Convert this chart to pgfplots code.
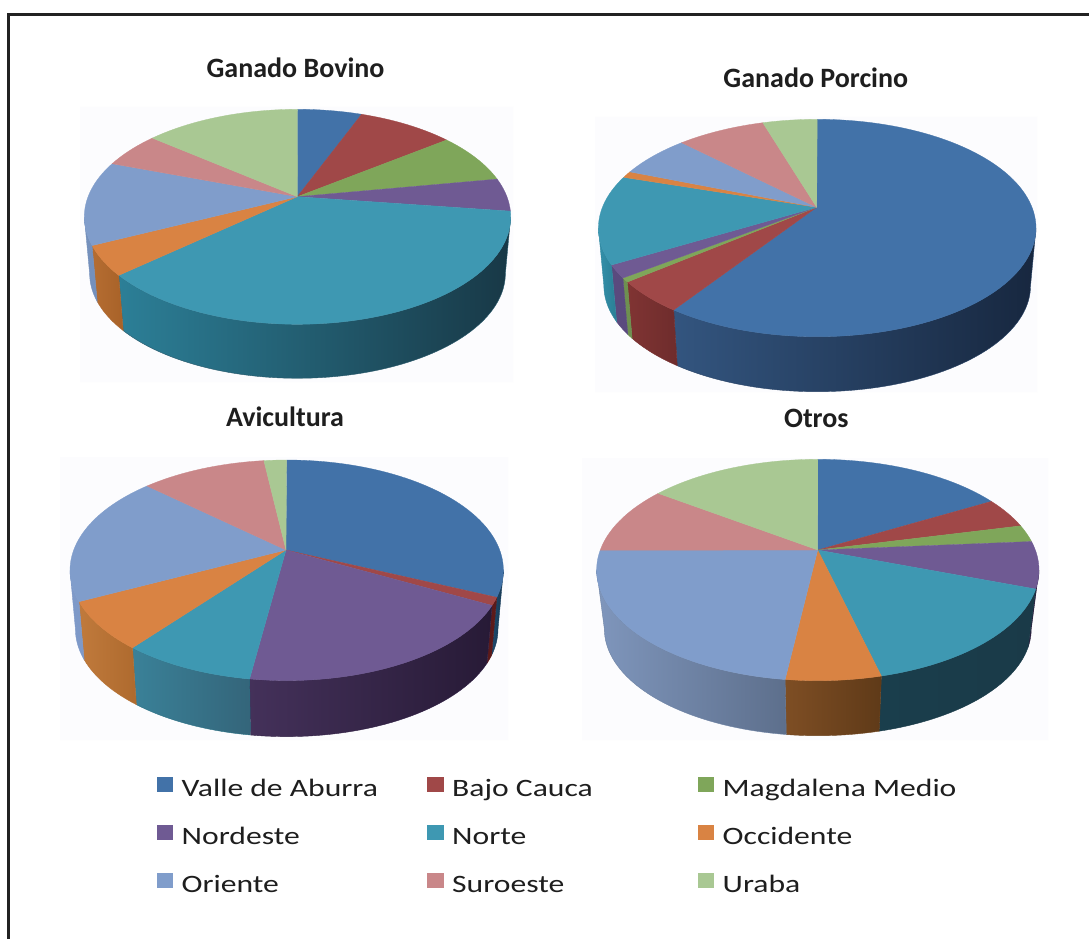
\documentclass[border=0pt]{standalone}
\usepackage{fontspec}
\usepackage{pgfplots}
\pgfplotsset{compat=1.18}
\setmainfont{Carlito}
\newfontfamily\legfont[FakeStretch=1.265]{Carlito}
\definecolor{cVA}{HTML}{4272A8}
\definecolor{cBC}{HTML}{A04848}
\definecolor{cMM}{HTML}{7FA65A}
\definecolor{cNE}{HTML}{6F5A93}
\definecolor{cNO}{HTML}{3E98B2}
\definecolor{cOC}{HTML}{D98343}
\definecolor{cOR}{HTML}{809DCB}
\definecolor{cSU}{HTML}{C98789}
\definecolor{cUR}{HTML}{A9C893}
\definecolor{bgc}{HTML}{FCFCFE}
\definecolor{framec}{HTML}{222222}
\definecolor{titlec}{HTML}{1E1E1E}
\newcount\kk
\newcount\wallid
\def\shr{0.975}
% append an elliptical arc (angles clockwise from the top) to \pts
\newcommand\addarc[6]{%
  \pgfmathtruncatemacro\nn{max(1,ceil(abs(#2-#1)/2))}%
  \kk=0
  \loop
    \pgfmathsetmacro\ang{#1+(#2-#1)/\nn*\the\kk}%
    \pgfmathsetmacro\px{#3+#5*sin(\ang)}%
    \pgfmathsetmacro\py{#4-#6*cos(\ang)}%
    \edef\pts{\pts (\px,\py)}%
    \advance\kk by 1
  \ifnum\kk>\nn\else\repeat
}
\newcommand\setpie[7]{%
  \def\cx{#1}\def\cy{#2}\def\rx{#3}\def\ry{#4}\def\apx{#5}\def\apy{#6}%
  \pgfmathsetmacro\rxb{\shr*#3}%
  \pgfmathsetmacro\ryb{\shr*#4}%
  \pgfmathsetmacro\cyb{#2+#4+#7-\ryb}%
  \def\cum{0}%
}
\newif\ifwallpass
% \slice{percent}{top colour}{wall left}{wall middle}{wall right}
\newcommand\slice[5]{%
  \pgfmathsetmacro\aA{\cum}%
  \pgfmathsetmacro\aB{\cum+#1*3.6}%
  \let\cum\aB
  \ifwallpass
    \pgfmathsetmacro\wa{max(\aA,90)}%
    \pgfmathsetmacro\wb{min(\aB,270)}%
    \ifdim\wa pt<\wb pt
      \advance\wallid by 1
      \definecolor{wl\the\wallid}{HTML}{#3}%
      \definecolor{wm\the\wallid}{HTML}{#4}%
      \definecolor{wr\the\wallid}{HTML}{#5}%
      \def\pts{}%
      \addarc{\wa}{\wb}{\cx}{\cy}{\rx}{\ry}%
      \addarc{\wb}{\wa}{\cx}{\cyb}{\rxb}{\ryb}%
      \pgfmathsetmacro\px{\cx+\rx*sin(\wa)}%
      \pgfmathsetmacro\py{\cy-\ry*cos(\wa)}%
      \edef\pts{\pts (\px,\py)}%
      \edef\temp{\noexpand\addplot[forget plot,no markers,draw=wm\the\wallid,line width=0.4pt,
        left color=wl\the\wallid,middle color=wm\the\wallid,right color=wr\the\wallid]
        coordinates {\pts};}%
      \temp
    \fi
  \else
    \ifdim\aA pt<\aB pt
      \edef\pts{(\apx,\apy) }%
      \addarc{\aA}{\aB}{\cx}{\cy}{\rx}{\ry}%
      \edef\pts{\pts (\apx,\apy)}%
      \edef\temp{\noexpand\addplot[forget plot,no markers,fill=#2,draw=#2,line width=0.3pt]
        coordinates {\pts};}%
      \temp
    \fi
  \fi
}
\newcommand\bgrect[4]{\addplot[forget plot,no markers,fill=bgc,draw=none]
  coordinates {(#1,#2)(#3,#2)(#3,#4)(#1,#4)(#1,#2)};}
\newcommand\drawpie[1]{\wallpasstrue #1\wallpassfalse #1}
% shares of each region, percent
\def\bovino{\setpie{297.5}{216.8}{213.2}{107.5}{297.3}{196.7}{54}%
  \slice{4.86}{cVA}{2F5680}{2A4C72}{254466}%
  \slice{7.47}{cBC}{7E3433}{7E3433}{7E3433}%
  \slice{6.97}{cMM}{6E9050}{6E9050}{6E9050}%
  \slice{4.86}{cNE}{5A4A7E}{5A4A7E}{5A4A7E}%
  \slice{41.67}{cNO}{2C7F97}{29596B}{183846}%
  \slice{4.86}{cOC}{B56D32}{AE6830}{A86228}%
  \slice{12.53}{cOR}{7490BC}{7490BC}{7490BC}%
  \slice{4.86}{cSU}{B07A7C}{B07A7C}{B07A7C}%
  \slice{11.92}{cUR}{94B080}{94B080}{94B080}}
\def\porcino{\setpie{817.2}{228}{218.8}{108.7}{816.7}{207.3}{55}%
  \slice{61.39}{cVA}{33557F}{2A4467}{17273F}%
  \slice{5.33}{cBC}{803433}{78302F}{6E2C2C}%
  \slice{0.67}{cMM}{6E9050}{6E9050}{6E9050}%
  \slice{2.08}{cNE}{5A4A7E}{5A4A7E}{5A4A7E}%
  \slice{13.25}{cNO}{3590AA}{3088A0}{2A7F95}%
  \slice{0.92}{cOC}{B56D32}{B56D32}{B56D32}%
  \slice{5.72}{cOR}{7490BC}{7490BC}{7490BC}%
  \slice{6.64}{cSU}{B07A7C}{B07A7C}{B07A7C}%
  \slice{4.00}{cUR}{94B080}{94B080}{94B080}}
\def\avicultura{\setpie{286.7}{570.3}{216.7}{110.3}{286}{550}{56}%
  \slice{28.94}{cVA}{1E4A6E}{1B3F5E}{183850}%
  \slice{1.22}{cBC}{5C1A1A}{5C1A1A}{5C1A1A}%
  \slice{0}{cMM}{6E9050}{6E9050}{6E9050}%
  \slice{22.58}{cNE}{44315A}{301F44}{271A36}%
  \slice{9.86}{cNO}{3A8198}{2A7084}{34657A}%
  \slice{7.81}{cOC}{C07A3C}{B67234}{AE6A2E}%
  \slice{18.44}{cOR}{7E99C8}{7E99C8}{7E99C8}%
  \slice{9.47}{cSU}{B07A7C}{B07A7C}{B07A7C}%
  \slice{1.67}{cUR}{94B080}{94B080}{94B080}}
\def\otros{\def\shr{0.965}\setpie{817.8}{570}{221.2}{110.7}{817.7}{550}{55}%
  \slice{14.36}{cVA}{2F5680}{2A4C72}{254466}%
  \slice{4.11}{cBC}{7E3433}{7E3433}{7E3433}%
  \slice{2.39}{cMM}{6E9050}{6E9050}{6E9050}%
  \slice{6.89}{cNE}{2A1F3E}{2A1F3E}{2A1F3E}%
  \slice{17.61}{cNO}{1A3E4C}{1A3C4A}{1A3A48}%
  \slice{7.00}{cOC}{7E4E24}{6E441E}{5F3A18}%
  \slice{25.50}{cOR}{7F96BC}{6E83A4}{5D6F8C}%
  \slice{9.31}{cSU}{B07A7C}{B07A7C}{B07A7C}%
  \slice{12.83}{cUR}{94B080}{94B080}{94B080}}
\newcommand\swatch[1]{\addlegendimage{legend image code/.code={\path[fill=#1,draw=none] (0pt,1pt) rectangle (16.5pt,16pt);}}}
\newcommand\legtext[1]{\addlegendentry{\makebox[237pt][l]{#1}}}
\begin{document}
\begin{tikzpicture}
\path[use as bounding box,fill=white] (0,0) rectangle (1089pt,939pt);
\begin{axis}[
  at={(0,0)},anchor=south west,scale only axis,width=1089pt,height=939pt,
  xmin=0,xmax=1089,ymin=0,ymax=939,y dir=reverse,hide axis,clip=false,
  legend columns=3,
  legend cell align=left,
  legend style={at={(axis cs:156.7,768.7)},anchor=north west,draw=none,fill=none,
    inner sep=0pt,outer sep=0pt,column sep=8.5pt,
    nodes={inner sep=0pt,outer sep=0pt,text height=28pt,text depth=20pt},
    font=\fontsize{25pt}{28pt}\legfont\color{titlec}},
]
\addplot[forget plot,no markers,draw=framec,line width=2.8pt] coordinates {(8.6,939)(8.6,14.7)(1089,14.7)};
\bgrect{80}{107}{513}{382}
\bgrect{595}{117}{1037}{392}
\bgrect{60}{457}{508}{740}
\bgrect{582}{458}{1048}{740}
\drawpie{\bovino}
\drawpie{\porcino}
\drawpie{\avicultura}
\drawpie{\otros}
\swatch{cVA}\legtext{Valle de Aburra}
\swatch{cBC}\legtext{Bajo Cauca}
\swatch{cMM}\legtext{Magdalena Medio}
\swatch{cNE}\legtext{Nordeste}
\swatch{cNO}\legtext{Norte}
\swatch{cOC}\legtext{Occidente}
\swatch{cOR}\legtext{Oriente}
\swatch{cSU}\legtext{Suroeste}
\swatch{cUR}\legtext{Uraba}
\node[anchor=base,font=\fontsize{28pt}{30pt}\bfseries,text=titlec] at (axis cs:295.5,77.3) {Ganado Bovino};
\node[anchor=base,font=\fontsize{28pt}{30pt}\bfseries,text=titlec] at (axis cs:815.8,87.3) {Ganado Porcino};
\node[anchor=base,font=\fontsize{28pt}{30pt}\bfseries,text=titlec] at (axis cs:285,426.7) {Avicultura};
\node[anchor=base,font=\fontsize{28pt}{30pt}\bfseries,text=titlec] at (axis cs:816.3,427.7) {Otros};
\end{axis}
\end{tikzpicture}
\end{document}
